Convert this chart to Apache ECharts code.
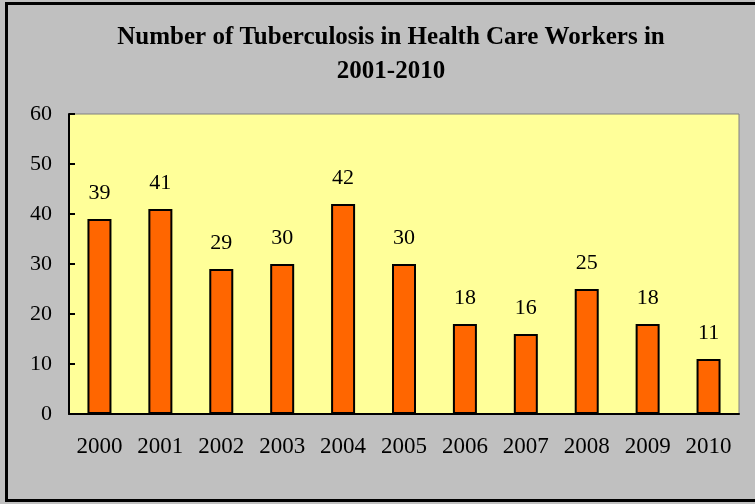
<!DOCTYPE html>
<html>
<head>
<meta charset="utf-8">
<script src="https://cdn.jsdelivr.net/npm/echarts@6/dist/echarts.min.js"></script>
<style>
    html, body { margin: 0; padding: 0; background: #c0c0c0; }
    #main { width: 755px; height: 504px; }
</style>
</head>
<body>
<div id="main"></div>
<script>
    var years = ['2000', '2001', '2002', '2003', '2004', '2005', '2006', '2007', '2008', '2009', '2010'];
    var cases = [39, 41, 29, 30, 42, 30, 18, 16, 25, 18, 11];

    var serif = '"Liberation Serif", "Times New Roman", serif';
    var chart = echarts.init(document.getElementById('main'));

    var option = {
        backgroundColor: '#c0c0c0',
        animation: false,
        title: {
            text: 'Number of Tuberculosis in Health Care Workers in\n2001-2010',
            left: 386,
            textAlign: 'center',
            top: 16,
            textStyle: {
                fontFamily: serif,
                fontWeight: 'bold',
                fontSize: 25,
                lineHeight: 34,
                color: '#000'
            }
        },
        graphic: [{
            type: 'rect',
            shape: { x: 6.5, y: 3.5, width: 760, height: 497 },
            style: { fill: null, stroke: '#000', lineWidth: 3 },
            silent: true
        }],
        grid: {
            left: 69,
            right: 16,
            top: 114,
            bottom: 90,
            show: true,
            backgroundColor: '#ffff99',
            borderColor: '#808080',
            borderWidth: 1
        },
        xAxis: {
            type: 'category',
            data: years,
            axisLine: { lineStyle: { color: '#000', width: 2 } },
            axisTick: { inside: true, length: 6, lineStyle: { color: '#000', width: 2 } },
            axisLabel: { fontFamily: serif, fontSize: 23, color: '#000', margin: 21 }
        },
        yAxis: {
            type: 'value',
            min: 0,
            max: 60,
            interval: 10,
            splitLine: { show: false },
            axisLine: { show: true, lineStyle: { color: '#000', width: 2 } },
            axisTick: { show: true, inside: true, length: 6, lineStyle: { color: '#000', width: 2 } },
            axisLabel: { fontFamily: serif, fontSize: 22, color: '#000', margin: 17 }
        },
        series: [{
            type: 'bar',
            data: cases,
            barWidth: 24,
            itemStyle: { color: '#ff6600', borderColor: '#000', borderWidth: 2 },
            label: {
                show: true,
                position: 'top',
                distance: 15,
                fontFamily: serif,
                fontSize: 22,
                color: '#000'
            }
        }]
    };

    chart.setOption(option);
</script>
</body>
</html>
